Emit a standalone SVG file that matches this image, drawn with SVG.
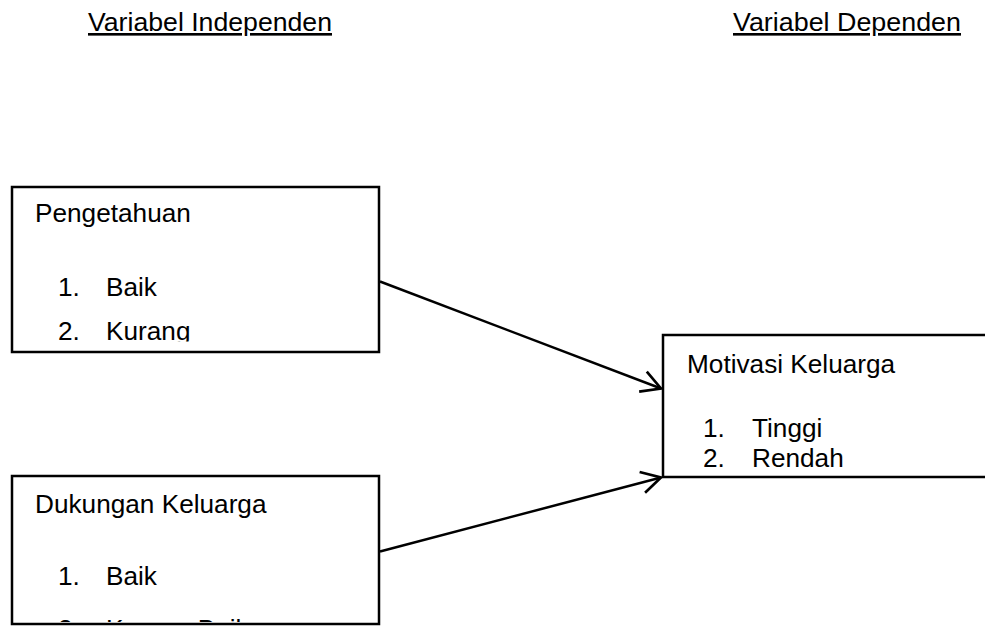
<svg xmlns="http://www.w3.org/2000/svg" width="985" height="628" viewBox="0 0 985 628">
  <style>
    text { font-family: "Liberation Sans", Arial, sans-serif; font-size: 26.2px; fill: #000; }
    .box { fill: #fff; stroke: #000; stroke-width: 2.5; }
    .conn { fill: none; stroke: #000; stroke-width: 2.5; }
    .hdr { text-decoration: underline; }
  </style>
  <defs>
    <marker id="arrow" markerUnits="userSpaceOnUse" markerWidth="30" markerHeight="30" refX="0" refY="0" viewBox="-22 -14 26 28" orient="auto" overflow="visible">
      <path d="M-18,-10 L0,0 L-18,10" fill="none" stroke="#000" stroke-width="2.5" stroke-linejoin="miter"/>
    </marker>
    <clipPath id="clip1"><rect x="12" y="187" width="367" height="154.5"/></clipPath>
    <clipPath id="clip2"><rect x="12" y="476" width="367" height="146"/></clipPath>
  </defs>
  <rect width="985" height="628" fill="#fff"/>

  <g id="headers">
    <text class="hdr" x="88" y="31" textLength="244" lengthAdjust="spacingAndGlyphs">Variabel Independen</text>
    <text class="hdr" x="733" y="31" textLength="228" lengthAdjust="spacingAndGlyphs">Variabel Dependen</text>
  </g>

  <g id="connectors">
    <line class="conn" x1="380" y1="281.5" x2="661" y2="388.5" marker-end="url(#arrow)"/>
    <line class="conn" x1="380" y1="551.5" x2="661" y2="477.5" marker-end="url(#arrow)"/>
  </g>

  <g id="node-pengetahuan">
    <rect class="box" x="12" y="187" width="367" height="165"/>
    <g clip-path="url(#clip1)">
      <text x="35" y="222">Pengetahuan</text>
      <text x="58" y="296">1.</text>
      <text x="106" y="296">Baik</text>
      <text x="58" y="340">2.</text>
      <text x="106" y="340">Kurang</text>
    </g>
  </g>

  <g id="node-dukungan">
    <rect class="box" x="12" y="476" width="367" height="148"/>
    <g clip-path="url(#clip2)">
      <text x="35" y="513">Dukungan Keluarga</text>
      <text x="58" y="585">1.</text>
      <text x="106" y="585">Baik</text>
      <text x="58" y="637.5">2.</text>
      <text x="106" y="637.5">Kurang Baik</text>
    </g>
  </g>

  <g id="node-motivasi">
    <rect class="box" x="663" y="335" width="340" height="142"/>
    <text x="687" y="373">Motivasi Keluarga</text>
    <text x="703" y="437">1.</text>
    <text x="752" y="437">Tinggi</text>
    <text x="703" y="467">2.</text>
    <text x="752" y="467">Rendah</text>
  </g>
</svg>
